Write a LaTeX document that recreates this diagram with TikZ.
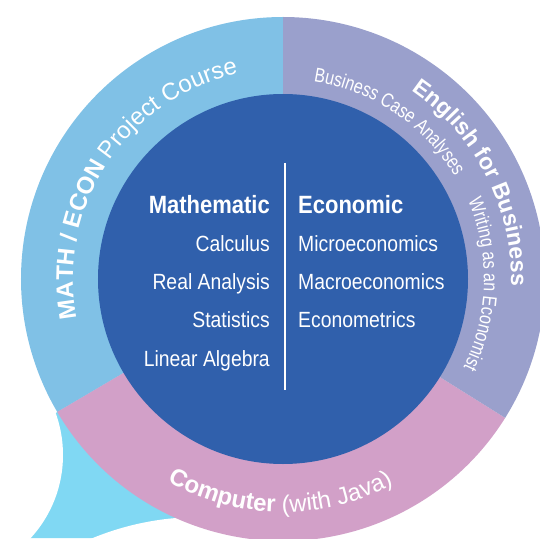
\documentclass[tikz,border=0pt]{standalone}
\usepackage{fontspec}
\setmainfont{Liberation Sans}
\newfontfamily\condf[FakeStretch=0.88]{Liberation Sans}
\newfontfamily\narrowf[FakeStretch=0.8]{Liberation Sans}
\usetikzlibrary{decorations.text}
\definecolor{ringblue}{RGB}{128,193,230}
\definecolor{ringpurple}{RGB}{154,160,204}
\definecolor{ringpink}{RGB}{210,160,200}
\definecolor{corecol}{RGB}{48,96,172}
\definecolor{tailcyan}{RGB}{128,216,243}
\begin{document}
\begin{tikzpicture}[x=1pt,y=1pt,
  item/.style={text=white, inner sep=0pt, font=\condf\fontsize{22}{22}\selectfont},
  head/.style={text=white, inner sep=0pt, font=\condf\bfseries\fontsize{25}{25}\selectfont},
  leftcol/.style={anchor=base east},
  rightcol/.style={anchor=base west},
  ringtext/.style={decorate, decoration={text along path, text align=center, text color=white, text={#1}}}
]
\useasboundingbox (-283,-259) rectangle (257,279);
% speech-bubble tail
\fill[tailcyan] (-226,-133) -- (0,0) -- (0,-259) -- (-283,-259) -- (-283,-191) -- cycle;
\fill[white] (-343,-176) circle[radius=123];
\fill[white] (-83,-521) circle[radius=283];
% ring sectors
\fill[ringblue] (0,0) -- (90:262) arc[start angle=90, end angle=210.5, radius=262] -- cycle;
\fill[ringpink] (0,0) -- (210.5:262) arc[start angle=210.5, end angle=328, radius=262] -- cycle;
\fill[ringpurple] (0,0) -- (-32:262) arc[start angle=-32, end angle=90, radius=262] -- cycle;
\fill[corecol] (0,0) circle[radius=185];
% ring texts
\path[ringtext={|\fontsize{24}{24}\selectfont\bfseries|MATH / ECON |\fontsize{24}{24}\selectfont|Project Course}]
  (200:210) arc[start angle=200, end angle=93, radius=210];
\path[ringtext={|\fontsize{24}{24}\selectfont\bfseries|Computer |\fontsize{24}{24}\selectfont|(with Java)}]
  (229:233) arc[start angle=229, end angle=309.5, radius=233];
\path[ringtext={|\fontsize{23}{23}\selectfont\bfseries|English for Business}]
  (61:228) arc[start angle=61, end angle=-7, radius=228];
\path[ringtext={|\narrowf\fontsize{20}{20}\selectfont|Business Case Analyses}]
  (85:200) arc[start angle=85, end angle=27, radius=200];
\path[ringtext={|\narrowf\fontsize{20}{20}\selectfont|Writing as an Economist}]
  (26:201) arc[start angle=26, end angle=-29, radius=201];
% centre columns
\coordinate (dtop) at (2,116);
\coordinate (dbot) at (2,-111);
\draw[white, line width=1.5pt] (dtop) -- (dbot);
\node[head, leftcol] (mhead) at (-13,66) {Mathematic};
\node[item, leftcol] (calc) at (-13,27.3) {Calculus};
\node[item, leftcol] (real) at (-13,-10.3) {Real Analysis};
\node[item, leftcol] (stat) at (-13,-48.3) {Statistics};
\node[item, leftcol] (lin) at (-13,-87) {Linear Algebra};
\node[head, rightcol] (ehead) at (15,66) {Economic};
\node[item, rightcol] (micro) at (15,27.3) {Microeconomics};
\node[item, rightcol] (macro) at (15,-10.3) {Macroeconomics};
\node[item, rightcol] (metr) at (15,-48.3) {Econometrics};
\end{tikzpicture}
\end{document}
